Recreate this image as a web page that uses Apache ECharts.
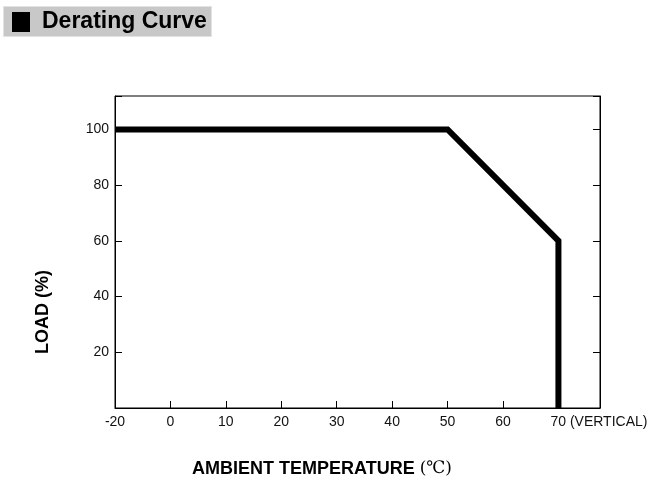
<!DOCTYPE html>
<html>
<head>
    <meta charset="utf-8">
    <script src="https://cdn.jsdelivr.net/npm/echarts@6/dist/echarts.min.js"></script>
</head>
<body style="margin:0;background:#fff">
<div id="main" style="width: 661px;height:501px"></div>

<script type="text/javascript">
    // 数据
    var tempTicks = [-20, 0, 10, 20, 30, 40, 50, 60, 70];
    var loadTicks = [20, 40, 60, 80, 100];
    var curveTemp = [-20, 50, 70, 70];
    var curveLoad = [100, 100, 60, 0];

    // the -20 step is drawn at the same spacing as a 10 degree step
    function axisPos(t) {
        return t < 0 ? t / 2 : t;
    }

    var chartDom = document.getElementById('main');
    var myChart = echarts.init(chartDom);
    var option;

    var FONT = '"Liberation Sans", Arial, sans-serif';

    option = {
        animation: false,
        backgroundColor: '#fff',
        grid: {
            left: 115, right: 61, top: 96, bottom: 93,
            show: true, borderColor: '#000', borderWidth: 1
        },
        graphic: [
            {
                type: 'rect', left: 3, top: 6,
                shape: { width: 208, height: 30 },
                style: { fill: '#c8c8c8', stroke: '#e2e2e2', lineWidth: 1 }
            },
            {
                type: 'rect', left: 12, top: 12,
                shape: { width: 18, height: 20 },
                style: { fill: '#000' }
            },
            {
                type: 'text', left: 42, top: 10,
                style: { text: 'Derating Curve', fill: '#000', font: 'bold 23px ' + FONT }
            },
            {
                type: 'text', left: 192, top: 460,
                style: {
                    text: '{b|AMBIENT TEMPERATURE }{n|(℃)}',
                    rich: {
                        b: { fontFamily: FONT, fontWeight: 'bold', fontSize: 18, fill: '#000' },
                        n: { fontFamily: '"DejaVu Serif", serif', fontSize: 17, fill: '#000' }
                    }
                }
            },
            {
                type: 'text', x: 43, y: 312, rotation: Math.PI / 2,
                style: {
                    text: 'LOAD (%)', fill: '#000', font: 'bold 18px ' + FONT,
                    align: 'center', verticalAlign: 'middle'
                }
            }
        ],
        xAxis: {
            type: 'value',
            min: axisPos(tempTicks[0]),
            max: 77.5,
            interval: 10,
            splitLine: { show: false },
            axisLine: { onZero: false, lineStyle: { color: '#000', width: 1 } },
            axisTick: { inside: true, length: 7, lineStyle: { color: '#000' } },
            axisLabel: {
                margin: 7,
                color: '#111',
                fontFamily: FONT,
                fontSize: 14,
                formatter: function (v) {
                    for (var i = 0; i < tempTicks.length; i++) {
                        if (axisPos(tempTicks[i]) === v) {
                            if (i === tempTicks.length - 1) return '{last|' + tempTicks[i] + ' (VERTICAL)}';
                            return String(tempTicks[i]);
                        }
                    }
                    return '';
                },
                rich: {
                    last: { fontFamily: FONT, fontSize: 14, color: '#111', padding: [0, 0, 0, 81] }
                }
            }
        },
        yAxis: [
            {
                type: 'value',
                min: 0,
                max: 112,
                interval: 20,
                splitLine: { show: false },
                axisLine: { show: true, onZero: false, lineStyle: { color: '#000', width: 1 } },
                axisTick: { show: true, inside: true, length: 7, lineStyle: { color: '#000' } },
                axisLabel: {
                    margin: 6,
                    color: '#111',
                    fontFamily: FONT,
                    fontSize: 14,
                    formatter: function (v) {
                        return loadTicks.indexOf(v) >= 0 ? String(v) : '';
                    }
                }
            },
            {
                type: 'value',
                position: 'right',
                min: 0,
                max: 112,
                interval: 20,
                splitLine: { show: false },
                axisLine: { show: true, onZero: false, lineStyle: { color: '#000', width: 1 } },
                axisTick: { show: true, inside: true, length: 7, lineStyle: { color: '#000' } },
                axisLabel: { show: false }
            }
        ],
        series: [
            {
                type: 'line',
                showSymbol: false,
                symbol: 'none',
                lineStyle: { color: '#000', width: 6, cap: 'butt', join: 'miter' },
                data: curveTemp.map(function (t, i) { return [axisPos(t), curveLoad[i]]; })
            }
        ]
    };

    option && myChart.setOption(option);
</script>
</body>
</html>
